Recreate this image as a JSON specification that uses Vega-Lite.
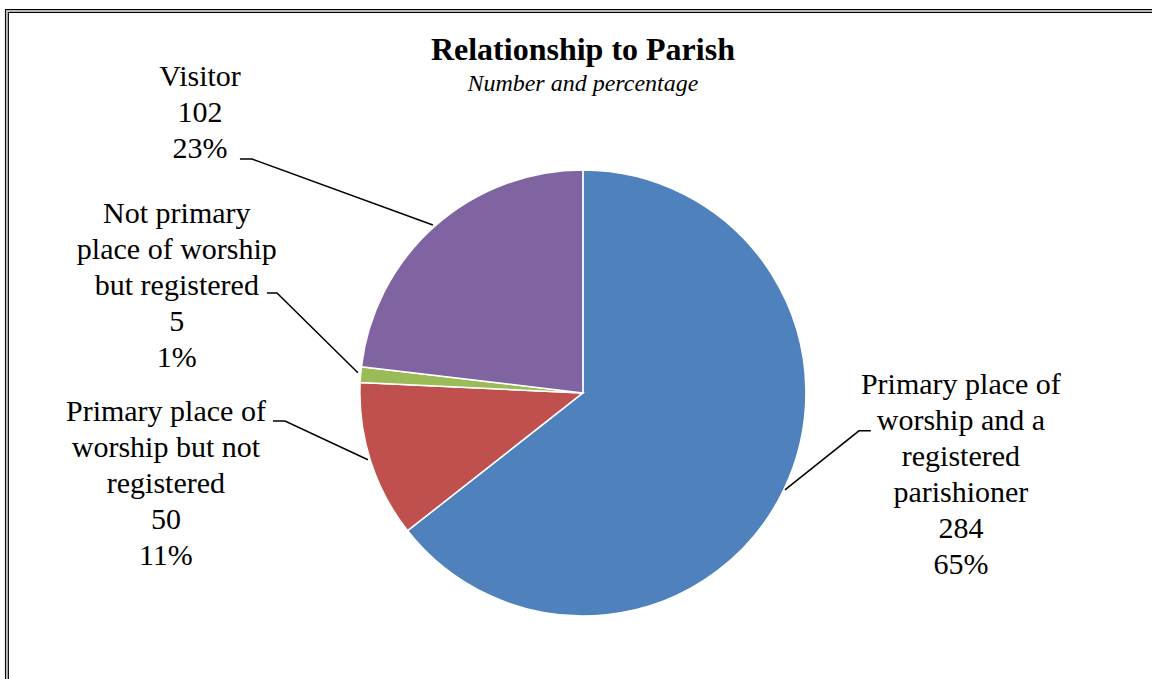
{
  "$schema": "https://vega.github.io/schema/vega-lite/v6.json",
  "width": 1152,
  "height": 679,
  "autosize": {"type": "none"},
  "padding": 0,
  "background": "white",
  "config": {"view": {"stroke": null}, "font": "Liberation Serif"},
  "datasets": {
    "slices": [
      {"idx": 1, "category": "Primary place of worship and a registered parishioner", "lines": "Primary place of|worship and a|registered|parishioner", "count": 284, "pct": "65%", "labelX": 169.5, "labelY": 3.6},
      {"idx": 2, "category": "Primary place of worship but not registered", "lines": "Primary place of|worship but not|registered", "count": 50, "pct": "11%", "labelX": -187.0, "labelY": -8.5},
      {"idx": 3, "category": "Not primary place of worship but registered", "lines": "Not primary|place of worship|but registered", "count": 5, "pct": "1%", "labelX": -182.1, "labelY": 80.3},
      {"idx": 4, "category": "Visitor", "lines": "Visitor", "count": 102, "pct": "23%", "labelX": -171.7, "labelY": 141.7}
    ],
    "leaders": [
      {"leader": "blue", "seq": 1, "x": 90.6, "y": -43.5},
      {"leader": "blue", "seq": 2, "x": 123.8, "y": -17.0},
      {"leader": "blue", "seq": 3, "x": 129.1, "y": -17.0},
      {"leader": "red", "seq": 1, "x": -139.0, "y": -12.6},
      {"leader": "red", "seq": 2, "x": -133.6, "y": -12.6},
      {"leader": "red", "seq": 3, "x": -96.4, "y": -30.0},
      {"leader": "green", "seq": 1, "x": -141.7, "y": 44.8},
      {"leader": "green", "seq": 2, "x": -137.2, "y": 44.8},
      {"leader": "green", "seq": 3, "x": -100.9, "y": 9.0},
      {"leader": "visitor", "seq": 1, "x": -153.8, "y": 104.9},
      {"leader": "visitor", "seq": 2, "x": -148.4, "y": 104.9},
      {"leader": "visitor", "seq": 3, "x": -67.3, "y": 75.3}
    ]
  },
  "layer": [
    {
      "data": {"name": "slices"},
      "mark": {"type": "arc", "radius": 223, "stroke": "white", "strokeWidth": 1.5},
      "encoding": {
        "theta": {"field": "count", "type": "quantitative", "stack": true},
        "order": {"field": "idx", "type": "quantitative"},
        "color": {
          "field": "category",
          "type": "nominal",
          "scale": {
            "domain": ["Primary place of worship and a registered parishioner", "Primary place of worship but not registered", "Not primary place of worship but registered", "Visitor"],
            "range": ["#4F81BD", "#C0504D", "#9BBB59", "#8064A2"]
          },
          "legend": null
        },
        "x": {"datum": 0, "type": "quantitative", "scale": {"domain": [-261.4, 255.2], "nice": false, "zero": false}, "axis": null},
        "y": {"datum": 0, "type": "quantitative", "scale": {"domain": [-128.3, 176.2], "nice": false, "zero": false}, "axis": null}
      }
    },
    {
      "data": {"name": "leaders"},
      "mark": {"type": "line", "color": "black", "strokeWidth": 1.5},
      "encoding": {
        "x": {"field": "x", "type": "quantitative", "scale": {"domain": [-261.4, 255.2], "nice": false, "zero": false}, "axis": null},
        "y": {"field": "y", "type": "quantitative", "scale": {"domain": [-128.3, 176.2], "nice": false, "zero": false}, "axis": null},
        "detail": {"field": "leader", "type": "nominal"},
        "order": {"field": "seq", "type": "quantitative"}
      }
    },
    {
      "data": {"name": "slices"},
      "transform": [
        {"calculate": "datum.lines + '|' + datum.count + '|' + datum.pct", "as": "label"}
      ],
      "mark": {"type": "text", "fontSize": 30, "lineHeight": 36, "lineBreak": "|", "align": "center", "baseline": "middle", "font": "Liberation Serif", "color": "black"},
      "encoding": {
        "x": {"field": "labelX", "type": "quantitative", "scale": {"domain": [-261.4, 255.2], "nice": false, "zero": false}, "axis": null},
        "y": {"field": "labelY", "type": "quantitative", "scale": {"domain": [-128.3, 176.2], "nice": false, "zero": false}, "axis": null},
        "text": {"field": "label", "type": "nominal"}
      }
    },
    {
      "data": {"values": [{}]},
      "mark": {"type": "text", "text": "Relationship to Parish", "fontSize": 32, "fontWeight": "bold", "align": "center", "baseline": "middle", "font": "Liberation Serif", "color": "black"},
      "encoding": {
        "x": {"datum": 0, "type": "quantitative"},
        "y": {"datum": 153.8, "type": "quantitative"}
      }
    },
    {
      "data": {"values": [{}]},
      "mark": {"type": "text", "text": "Number and percentage", "fontSize": 24, "fontStyle": "italic", "align": "center", "baseline": "middle", "font": "Liberation Serif", "color": "black"},
      "encoding": {
        "x": {"datum": 0, "type": "quantitative"},
        "y": {"datum": 138.6, "type": "quantitative"}
      }
    },
    {
      "data": {"values": [{}]},
      "mark": {"type": "rect", "fill": null, "stroke": "black", "strokeWidth": 4},
      "encoding": {
        "x": {"datum": -258.3, "type": "quantitative"},
        "x2": {"datum": 300},
        "y": {"datum": 171.3, "type": "quantitative"},
        "y2": {"datum": -300}
      }
    },
    {
      "data": {"values": [{}]},
      "mark": {"type": "rect", "fill": null, "stroke": "#b8b8b8", "strokeWidth": 2},
      "encoding": {
        "x": {"datum": -258.3, "type": "quantitative"},
        "x2": {"datum": 300},
        "y": {"datum": 171.3, "type": "quantitative"},
        "y2": {"datum": -300}
      }
    }
  ]
}
